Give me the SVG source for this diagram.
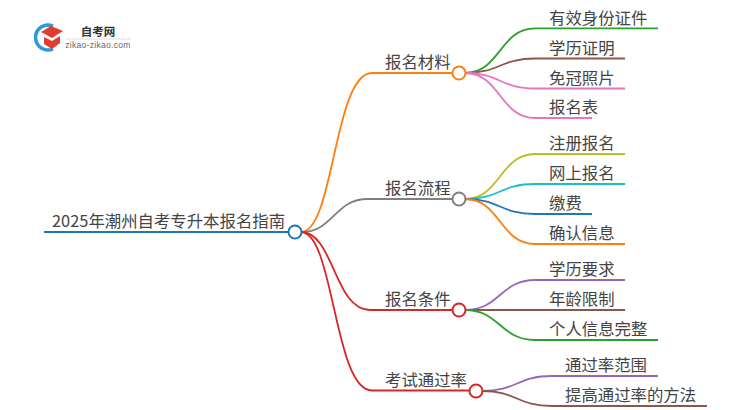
<svg xmlns="http://www.w3.org/2000/svg" width="750" height="410" viewBox="0 0 750 410">
<style>
text{font-family:"Noto Sans CJK SC","Noto Sans",sans-serif;fill:#444;font-size:16.400px;font-weight:400}
.c path{fill:none;stroke-width:1.800}
.n circle{fill:#fff;stroke-width:2}
.o{stroke:#ff7f0e}.gy{stroke:#7f7f7f}.r{stroke:#d62728}.b{stroke:#1f77b4}.g{stroke:#2ca02c}.br{stroke:#8c564b}.p{stroke:#e377c2}.y{stroke:#bcbd22}.cy{stroke:#17becf}.v{stroke:#9467bd}
</style>
<g id="logo">
<path d="M53 26A12.500 12.500 0 1 0 53 49" fill="none" stroke="#2a9bd8" stroke-width="3.500"/>
<path d="M41 32L51 26L63 31L52 38Z" fill="#e03c31"/>
<path d="M44 37L52 41L60 36V43L52 49L44 44Z" fill="#e03c31"/>
<text x="98" y="35.500" text-anchor="middle" style="font-size:11.500px;font-weight:700;fill:#333">自考网</text>
<path d="M66 39H131" stroke="#ddd" stroke-width="1"/>
<text x="98" y="48" text-anchor="middle" style="font-size:8.500px;letter-spacing:.3px;font-weight:400;fill:#666;font-family:'Liberation Sans',sans-serif">zikao-zikao.com</text>
</g>
<g class="c" id="connectors">
<path class="b" d="M44 232H295"/>
<path class="o" d="M301 232C334 232 334 73 372 73H459"/>
<path class="gy" d="M301 232C334 232 334 199 368 199H459"/>
<path class="r" d="M301 232C334 232 334 310 370 310H459"/>
<path class="r" d="M301 232C334 232 334 390.500 372 390.500H476"/>
<path class="g" d="M465 73C500 73 500 28.300 535 28.300H658"/>
<path class="br" d="M465 73C500 73 500 58.500 535 58.500H625"/>
<path class="p" d="M465 73C500 73 500 88.500 535 88.500H625"/>
<path class="p" d="M465 73C500 73 500 118 535 118H592"/>
<path class="y" d="M465 199C500 199 500 154 535 154H625"/>
<path class="cy" d="M465 199C500 199 500 184 535 184H625"/>
<path class="b" d="M465 199C500 199 500 214 535 214H592"/>
<path class="o" d="M465 199C500 199 500 244 535 244H625"/>
<path class="v" d="M465 310C500 310 500 280 535 280H625"/>
<path class="br" d="M465 310H625"/>
<path class="g" d="M465 310C500 310 500 340 535 340H658"/>
<path class="v" d="M482 391C517 391 517 376 552 376H658"/>
<path class="br" d="M482 391C517 391 517 406 552 406H707"/>
</g>
<g class="n" id="root"><text x="52" y="226.500">2025年潮州自考专升本报名指南</text><circle class="b" cx="295" cy="232" r="6.500"/></g>
<g class="n" id="n1"><text x="385" y="68">报名材料</text><circle class="o" cx="459" cy="73" r="6.500"/></g>
<g class="n" id="n2"><text x="385" y="194">报名流程</text><circle class="gy" cx="459" cy="199" r="6.500"/></g>
<g class="n" id="n3"><text x="385" y="305">报名条件</text><circle class="r" cx="459" cy="310" r="6.500"/></g>
<g class="n" id="n4"><text x="385" y="385.500">考试通过率</text><circle class="r" cx="476" cy="391" r="6.500"/></g>
<g id="l1"><text x="549" y="23.500">有效身份证件</text></g>
<g id="l2"><text x="549" y="53.500">学历证明</text></g>
<g id="l3"><text x="549" y="83.500">免冠照片</text></g>
<g id="l4"><text x="549" y="113">报名表</text></g>
<g id="l5"><text x="549" y="149">注册报名</text></g>
<g id="l6"><text x="549" y="179">网上报名</text></g>
<g id="l7"><text x="549" y="209">缴费</text></g>
<g id="l8"><text x="549" y="239">确认信息</text></g>
<g id="l9"><text x="549" y="275">学历要求</text></g>
<g id="l10"><text x="549" y="305">年龄限制</text></g>
<g id="l11"><text x="549" y="335">个人信息完整</text></g>
<g id="l12"><text x="565" y="371">通过率范围</text></g>
<g id="l13"><text x="565" y="401">提高通过率的方法</text></g>
</svg>
